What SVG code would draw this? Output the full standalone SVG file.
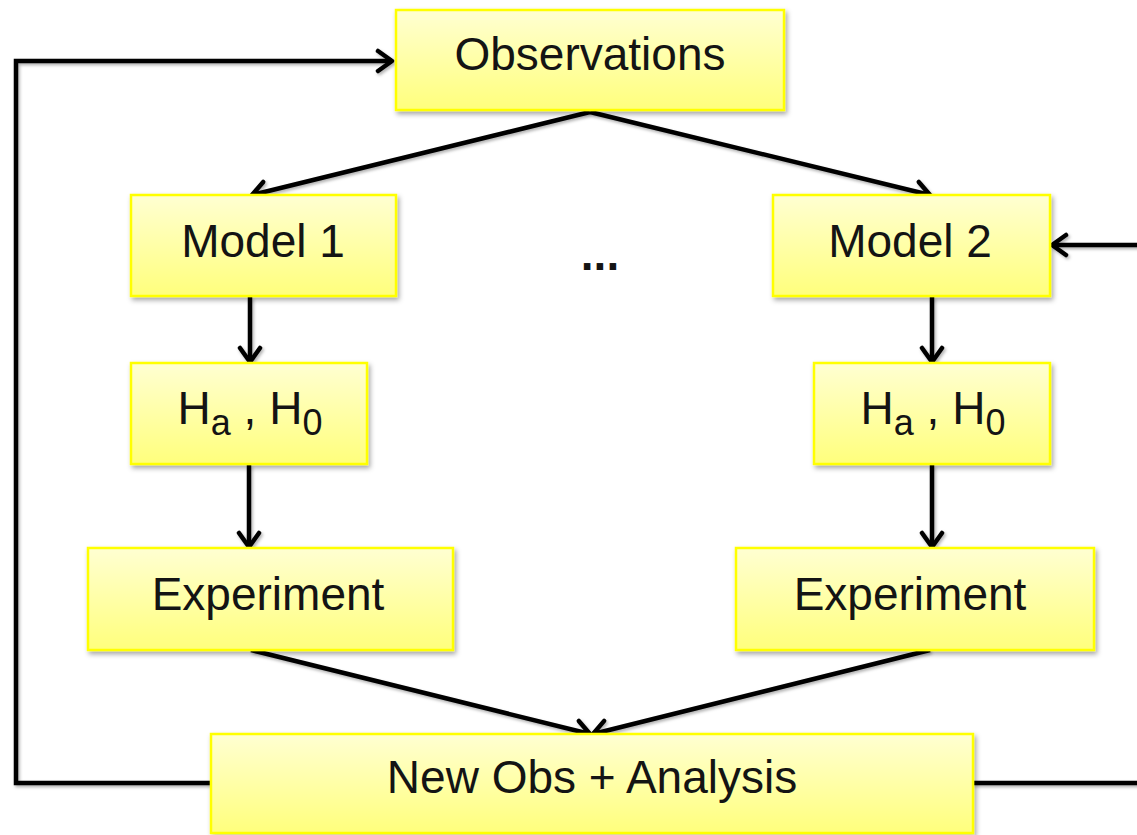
<svg xmlns="http://www.w3.org/2000/svg" width="1137" height="835" viewBox="0 0 1137 835">
  <defs>
    <linearGradient id="boxFill" x1="0" y1="0" x2="0" y2="1">
      <stop offset="0" stop-color="#ffffd2"/>
      <stop offset="1" stop-color="#ffff7c"/>
    </linearGradient>
    <filter id="shadow" x="-10%" y="-10%" width="125%" height="135%">
      <feDropShadow dx="2" dy="3" stdDeviation="2.5" flood-color="#000" flood-opacity="0.35"/>
    </filter>
    <filter id="lineShadow" x="-5%" y="-5%" width="110%" height="115%">
      <feDropShadow dx="1.5" dy="2" stdDeviation="1.5" flood-color="#000" flood-opacity="0.3"/>
    </filter>
    <marker id="chev" viewBox="0 0 26 26" refX="23" refY="13" markerWidth="26" markerHeight="26" markerUnits="userSpaceOnUse" orient="auto">
      <path d="M9,3 L23,13 L9,23" fill="none" stroke="#000" stroke-width="4.5" stroke-linecap="round" stroke-linejoin="round"/>
    </marker>
    <style>
      .box { fill: url(#boxFill); stroke: #ffff00; stroke-width: 2.5; filter: url(#shadow); }
      .lbl { font-family: "Liberation Sans", Arial, sans-serif; font-size: 46px; fill: #141414; text-anchor: middle; }
      .sub { font-size: 36px; }
      .conn { fill: none; stroke: #000; stroke-width: 4.5; stroke-linejoin: miter; }
      .arr { marker-end: url(#chev); }
    </style>
  </defs>

  <!-- connectors -->
  <g id="connectors" filter="url(#lineShadow)">
    <path class="conn arr" d="M590,112 L252,195"/>
    <path class="conn arr" d="M590,112 L930,195"/>
    <path class="conn arr" d="M250,297 L250,362"/>
    <path class="conn arr" d="M932,297 L932,362"/>
    <path class="conn arr" d="M249,465 L249,547"/>
    <path class="conn arr" d="M932,465 L932,547"/>
    <path class="conn arr" d="M251,650 L590,734"/>
    <path class="conn arr" d="M930,650 L593,734"/>
    <path class="conn arr" d="M211,783 L16,783 L16,61 L392,61"/>
    <path class="conn" d="M973,783 L1140,783"/>
    <path class="conn arr" d="M1140,245 L1052,245"/>
  </g>

  <g id="observations">
    <rect class="box" x="396" y="10" width="388" height="100"/>
    <text class="lbl" x="590" y="70">Observations</text>
  </g>

  <g id="model1">
    <rect class="box" x="131" y="195" width="265" height="101"/>
    <text class="lbl" x="263" y="257">Model 1</text>
  </g>

  <g id="model2">
    <rect class="box" x="773" y="195" width="277" height="101"/>
    <text class="lbl" x="910" y="257">Model 2</text>
  </g>

  <g id="ellipsis">
    <text class="lbl" x="600" y="270" font-weight="bold">...</text>
  </g>

  <g id="hyp1">
    <rect class="box" x="131" y="363" width="236" height="101"/>
    <text class="lbl" x="250" y="424">H<tspan class="sub" dy="11">a</tspan><tspan dy="-11"> , H</tspan><tspan class="sub" dy="11">0</tspan></text>
  </g>

  <g id="hyp2">
    <rect class="box" x="814" y="363" width="236" height="101"/>
    <text class="lbl" x="933" y="424">H<tspan class="sub" dy="11">a</tspan><tspan dy="-11"> , H</tspan><tspan class="sub" dy="11">0</tspan></text>
  </g>

  <g id="experiment1">
    <rect class="box" x="88" y="548" width="365" height="102"/>
    <text class="lbl" x="268" y="610">Experiment</text>
  </g>

  <g id="experiment2">
    <rect class="box" x="736" y="548" width="358" height="102"/>
    <text class="lbl" x="910" y="610">Experiment</text>
  </g>

  <g id="newobs">
    <rect class="box" x="211" y="734" width="762" height="99"/>
    <text class="lbl" x="592" y="793">New Obs + Analysis</text>
  </g>
</svg>
